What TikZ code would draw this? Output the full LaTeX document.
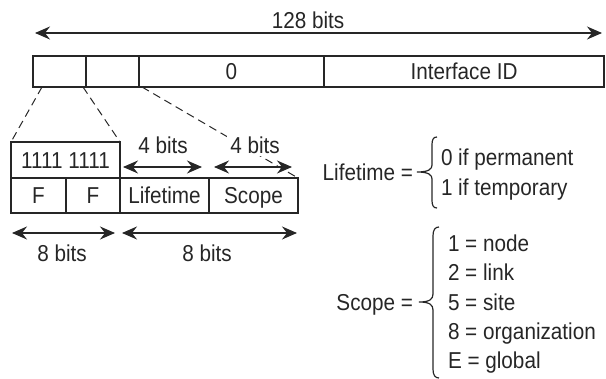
\documentclass[tikz,border=0pt]{standalone}
\usepackage{fontspec}
\setmainfont[FakeStretch=0.9]{Liberation Sans}
\usetikzlibrary{arrows.meta,calc}
\begin{document}
\begin{tikzpicture}[x=1pt,y=-1pt,
  line width=1.1pt, draw=black!85,
  txt/.style={font=\fontsize{23}{26}\selectfont, text=black!85,
    text height=16.5pt, text depth=0pt, inner sep=0pt, outer sep=0pt},
  cell/.style={txt, draw, anchor=north west},
  bitslbl/.style={txt, fill=white, inner sep=3pt},
  dimline/.style={{Stealth[length=15pt,width=13pt,inset=5pt]}-{Stealth[length=15pt,width=13pt,inset=5pt]}},
  dashline/.style={dash pattern=on 8pt off 5pt, line width=1pt},
  bracestyle/.style={line width=1.2pt}]
\useasboundingbox (0,0) rectangle (606,379);

% 128-bit address
\node[cell, minimum width=53pt,  minimum height=31pt] (c1) at (33,56)  {};
\node[cell, minimum width=53pt,  minimum height=31pt] (c2) at (86,56)  {};
\node[cell, minimum width=185pt, minimum height=31pt] (c3) at (139,56) {0};
\node[cell, minimum width=280pt, minimum height=31pt] (c4) at (324,56) {Interface ID};

\coordinate (tl) at (35,33);
\coordinate (tr) at (602,33);
\draw[dimline] (tl) -- (tr);
\node[txt] (lbl128) at (308,20) {128 bits};

% expanded prefix fields
\node[cell, minimum width=109pt, minimum height=36pt] (ff) at (11,142) {1111 1111};
\node[cell, minimum width=55pt, minimum height=35pt] (f1) at (11,178)  {F};
\node[cell, minimum width=54pt, minimum height=35pt] (f2) at (66,178)  {F};
\node[cell, minimum width=89pt, minimum height=35pt] (lt) at (120,178) {Lifetime};
\node[cell, minimum width=89pt, minimum height=35pt] (sc) at (209,178) {Scope};

% zoom guides
\draw[dashline] ($(c1.south west)+(9,0)$) -- (ff.north west);
\draw[dashline] ($(c2.south west)+(-3,0)$) -- (ff.north east);
\draw[dashline] ($(c3.south west)+(3,0)$) -- (sc.north east);

% field widths
\node[bitslbl] (b4a) at (163,145) {4 bits};
\node[bitslbl] (b4b) at (255,145) {4 bits};
\coordinate (a1l) at (123,167); \coordinate (a1r) at (202,167);
\coordinate (a2l) at (214,167); \coordinate (a2r) at (292,167);
\draw[dimline] (a1l) -- (a1r);
\draw[dimline] (a2l) -- (a2r);

\coordinate (a3l) at (12,233);  \coordinate (a3r) at (115,233);
\coordinate (a4l) at (122,233); \coordinate (a4r) at (297,233);
\draw[dimline] (a3l) -- (a3r);
\draw[dimline] (a4l) -- (a4r);
\node[txt] (b8a) at (62,253)  {8 bits};
\node[txt] (b8b) at (207,253) {8 bits};

% Lifetime values
\node[txt, anchor=east] (lifeeq) at (413,172) {Lifetime =};
\draw[bracestyle] (437,137) .. controls (433,137) and (432,140) .. (432,145)
  -- (432,165) .. controls (432,169) and (429,172) .. (417,172)
  .. controls (429,172) and (432,175) .. (432,179)
  -- (432,200) .. controls (432,205) and (433,208) .. (437,208);
\node[txt, anchor=west] (lt0) at (441,157) {0 if permanent};
\node[txt, anchor=west] (lt1) at (441,187) {1 if temporary};

% Scope values
\node[txt, anchor=east] (scopeeq) at (413,302) {Scope =};
\draw[bracestyle] (439,227) .. controls (435,227) and (433,230) .. (433,236)
  -- (433,294) .. controls (433,299) and (430,302) .. (419,302)
  .. controls (430,302) and (433,305) .. (433,310)
  -- (433,369) .. controls (433,375) and (435,378) .. (439,378);
\node[txt, anchor=west] (s1) at (448,243) {1 = node};
\node[txt, anchor=west] (s2) at (448,272) {2 = link};
\node[txt, anchor=west] (s5) at (448,302) {5 = site};
\node[txt, anchor=west] (s8) at (448,331) {8 = organization};
\node[txt, anchor=west] (sE) at (448,360) {E = global};
\end{tikzpicture}
\end{document}
